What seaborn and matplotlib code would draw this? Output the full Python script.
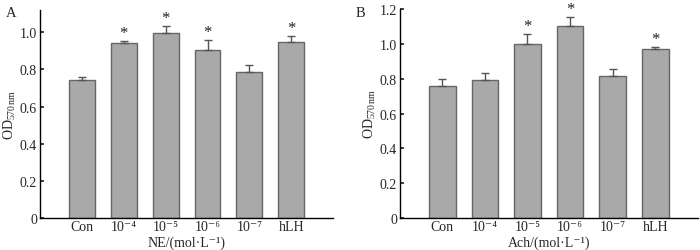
import numpy as np
import pandas as pd
import seaborn as sns
import matplotlib.pyplot as plt

groups = ["Con", "10⁻⁴", "10⁻⁵", "10⁻⁶", "10⁻⁷", "hLH"]

# panel A: NE
ne_mean = [0.746, 0.941, 0.996, 0.905, 0.787, 0.946]
ne_err = [0.016, 0.012, 0.038, 0.052, 0.036, 0.034]
ne_sig = [False, True, True, True, False, True]

# panel B: Ach
ach_mean = [0.761, 0.795, 0.998, 1.101, 0.818, 0.973]
ach_err = [0.040, 0.037, 0.059, 0.056, 0.035, 0.012]
ach_sig = [False, False, True, True, False, True]

sns.set_theme(style="ticks")
plt.rcParams['font.family'] = ['Liberation Serif', 'DejaVu Serif']
plt.rcParams['mathtext.fontset'] = 'custom'
plt.rcParams['mathtext.rm'] = 'Liberation Serif'
plt.rcParams['mathtext.it'] = 'Liberation Serif:italic'

fig = plt.figure(figsize=(7, 2.51), dpi=100)
axA = fig.add_axes([0.057, 0.127, 0.419, 0.829])
axB = fig.add_axes([0.571, 0.127, 0.426, 0.833])

FS = 10


def draw(ax, mean, err, sig, xlabel, ymax, yticks, ticklabels, letter, lx):
    df = pd.DataFrame({"group": groups, "od": mean})
    sns.barplot(data=df, x="group", y="od", ax=ax, color="#a9a9a9",
                edgecolor="#666666", linewidth=1.0, width=0.62, saturation=1)
    x = np.arange(len(groups))
    ax.errorbar(x, mean, yerr=[np.zeros(len(err)), err], fmt="none",
                ecolor="#555555", elinewidth=1.0, capsize=3, capthick=1.0)
    for i in range(len(groups)):
        if sig[i]:
            ax.text(x[i], mean[i] + err[i], "*", ha="center",
                    va="bottom", fontsize=12, color="#222222")
    ax.set_xlim(-1, 6)
    ax.set_ylim(0, ymax)
    ax.set_yticks(yticks)
    ax.set_yticklabels(ticklabels)
    ax.set_xlabel(xlabel, fontsize=FS, va="bottom")
    pos = ax.get_position()
    ax.xaxis.set_label_coords((pos.x0 + pos.x1) / 2, 0.004,
                              transform=fig.transFigure)
    ax.set_ylabel("OD$_{\\mathregular{570\\,nm}}$", fontsize=FS, labelpad=1)
    ax.tick_params(axis="y", direction="in", length=3, labelsize=FS, pad=2)
    ax.tick_params(axis="x", length=0, labelsize=FS, pad=1.5)
    for s in ["top", "right"]:
        ax.spines[s].set_visible(False)
    for s in ["left", "bottom"]:
        ax.spines[s].set_linewidth(1.0)
        ax.spines[s].set_color("black")
    fig.text(lx, 0.945, letter, fontsize=10.5, ha="left", va="center")


draw(axA, ne_mean, ne_err, ne_sig, "NE/(mol·L⁻¹)", 1.12,
     [0, 0.2, 0.4, 0.6, 0.8, 1.0], ["0", "0.2", "0.4", "0.6", "0.8", "1.0"],
     "A", 0.008)
draw(axB, ach_mean, ach_err, ach_sig, "Ach/(mol·L⁻¹)", 1.2,
     [0, 0.2, 0.4, 0.6, 0.8, 1.0, 1.2],
     ["0", "0.2", "0.4", "0.6", "0.8", "1.0", "1.2"], "B", 0.508)

fig.savefig("out.png", dpi=100)
